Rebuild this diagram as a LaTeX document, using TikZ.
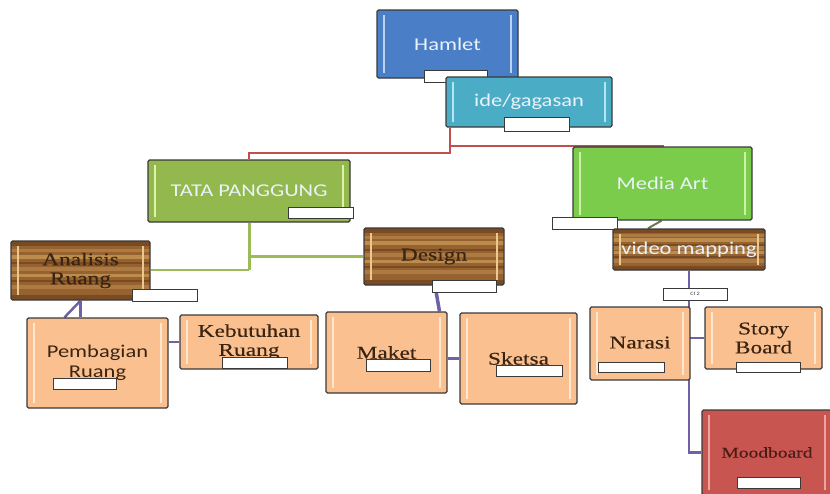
\documentclass[tikz,border=0pt]{standalone}
\usepackage{fontspec}
\newfontfamily\sansf[FakeStretch=1.25]{Carlito}
\newfontfamily\seriff[FakeStretch=1.3,FakeBold=0.3]{Liberation Serif}
\usetikzlibrary{calc,backgrounds}
\definecolor{bordc}{HTML}{3A3A3A}
\definecolor{hamletc}{HTML}{4A7EC6}
\definecolor{hamlethl}{HTML}{B8D4F0}
\definecolor{idec}{HTML}{4BACC6}
\definecolor{idehl}{HTML}{B4E6F2}
\definecolor{tatac}{HTML}{92B84E}
\definecolor{tatahl}{HTML}{DDF2A8}
\definecolor{mediac}{HTML}{7CCC4C}
\definecolor{mediahl}{HTML}{CCF2A8}
\definecolor{peachc}{HTML}{FAC090}
\definecolor{peachhl}{HTML}{FEE8D0}
\definecolor{moodc}{HTML}{C85550}
\definecolor{moodhl}{HTML}{EBA4A0}
\definecolor{wood1}{HTML}{96622F}
\definecolor{wood2}{HTML}{AC7A42}
\definecolor{wood3}{HTML}{BC8C4C}
\definecolor{wood4}{HTML}{7A4A22}
\definecolor{woodhl}{HTML}{EAC890}
\definecolor{redln}{HTML}{C0504D}
\definecolor{greenln}{HTML}{9BBB59}
\definecolor{purpln}{HTML}{7060A8}
\definecolor{oliveln}{HTML}{6A7A50}
\definecolor{darktxt}{HTML}{3A2412}
\definecolor{moodtxt}{HTML}{4A1A14}
\definecolor{lighttxt}{HTML}{EAF2FA}
\newcommand\bevelbars[1]{%
  \draw[#1, line width=2.2pt] ([xshift=7pt,yshift=-5pt]path picture bounding box.north west) -- ([xshift=7pt,yshift=5pt]path picture bounding box.south west);
  \draw[#1, line width=2.2pt] ([xshift=-7pt,yshift=-5pt]path picture bounding box.north east) -- ([xshift=-7pt,yshift=5pt]path picture bounding box.south east);}
\newcommand\woodstripes{%
  \foreach \f/\c/\w in {0.04/wood4/5,0.16/wood2/3,0.27/wood3/4,0.38/wood4/2,0.47/wood2/4,0.58/wood3/3,0.68/wood4/2,0.78/wood2/4,0.96/wood4/5}{%
    \draw[\c, line width=\w pt] ($(path picture bounding box.north west)!\f!(path picture bounding box.south west)$) -- ($(path picture bounding box.north east)!\f!(path picture bounding box.south east)$);}}
\tikzset{
  box/.style={draw=bordc, line width=1.3pt, rounded corners=1.5pt, inner sep=0pt, align=center},
  solidbox/.style 2 args={box, fill=#1, path picture={\bevelbars{#2}}},
  woodbox/.style={box, fill=wood1, path picture={\woodstripes\bevelbars{woodhl}}},
  sanstxt/.style={font=\sansf\fontsize{18}{20}\selectfont},
  seriftxt/.style={font=\seriff\fontsize{18}{19}\selectfont},
  lbl/.style={draw=bordc, fill=white, line width=1pt, minimum width=65pt, minimum height=11pt, inner sep=0pt, font=\sansf\fontsize{5}{5}\selectfont, text=bordc},
  redc/.style={draw=redln, line width=2.2pt},
  greenc/.style={draw=greenln, line width=3pt},
  purpc/.style={draw=purpln, line width=2.5pt},
}
\begin{document}
\begin{tikzpicture}[x=1pt,y=-1pt]
\useasboundingbox (0,0) rectangle (830,493);
\clip (0,0) rectangle (830,493);
% top
\node[solidbox={hamletc}{hamlethl}, sanstxt, text=lighttxt, minimum width=141pt, minimum height=68pt] (hamlet) at (447.5,44) {Hamlet};
\node[lbl, minimum width=63pt, minimum height=12pt] (lhamlet) at (456,76) {};
\node[solidbox={idec}{idehl}, sanstxt, text=lighttxt, minimum width=166pt, minimum height=50pt] (ide) at (529,102) {ide/gagasan};
\node[lbl, minimum height=14pt] (lide) at (537,124) {};
% level 2
\node[solidbox={tatac}{tatahl}, sanstxt, text=lighttxt, minimum width=202pt, minimum height=62pt] (tata) at (249,191) {TATA PANGGUNG};
\node[lbl] (ltata) at (320.5,212.5) {};
\node[solidbox={mediac}{mediahl}, sanstxt, text=lighttxt, minimum width=179pt, minimum height=73pt] (media) at (662.5,183.5) {Media Art};
\node[lbl, minimum height=12pt] (lmedia) at (584.5,223) {};
% level 3
\node[woodbox, seriftxt, text=darktxt, minimum width=139pt, minimum height=59pt] (ana) at (80.5,270.5) {Analisis\\Ruang};
\node[lbl, minimum height=12pt] (lana) at (164.5,295) {};
\node[woodbox, seriftxt, text=darktxt, minimum width=140pt, minimum height=57pt] (design) at (434,256.5) {\raisebox{3pt}{Design}};
\node[lbl, minimum width=64pt, minimum height=12pt] (ldesign) at (464,286) {};
\node[woodbox, sanstxt, text=lighttxt, minimum width=152pt, minimum height=41pt] (video) at (689,249.5) {video mapping};
% level 4
\node[solidbox={peachc}{peachhl}, sanstxt, text=darktxt, minimum width=141pt, minimum height=90pt] (pemb) at (97.5,363) {Pembagian\\Ruang};
\node[solidbox={peachc}{peachhl}, seriftxt, text=darktxt, minimum width=138pt, minimum height=54pt] (keb) at (249,342) {Kebutuhan\\Ruang};
\node[solidbox={peachc}{peachhl}, seriftxt, text=darktxt, minimum width=121pt, minimum height=81pt] (maket) at (386.5,352.5) {Maket};
\node[solidbox={peachc}{peachhl}, seriftxt, text=darktxt, minimum width=117pt, minimum height=91pt] (sketsa) at (518.5,358.5) {\raisebox{-2pt}{Sketsa}};
\node[solidbox={peachc}{peachhl}, seriftxt, text=darktxt, minimum width=100pt, minimum height=73pt] (narasi) at (640,343.5) {\raisebox{2pt}{Narasi}};
\node[solidbox={peachc}{peachhl}, seriftxt, text=darktxt, minimum width=117pt, minimum height=62pt] (story) at (763.5,338) {Story\\Board};
\node[solidbox={moodc}{moodhl}, font=\seriff\fontsize{15}{16}\selectfont, text=moodtxt, minimum width=130pt, minimum height=85pt] (mood) at (767,452.5) {Moodboard};
% labels on level 4
\node[lbl, minimum width=63pt] (lpemb) at (84.5,383.5) {};
\node[lbl] (lkeb) at (254.5,362.5) {};
\node[lbl, minimum width=64pt, minimum height=12pt] (lmaket) at (398,365) {};
\node[lbl, minimum width=66pt] (lsketsa) at (529,370.5) {};
\node[lbl, minimum width=66pt, minimum height=10pt] (lnarasi) at (631,367) {};
\node[lbl, minimum width=64pt, minimum height=10pt] (lstory) at (768,367) {};
\node[lbl, minimum width=63pt] (lmood) at (768.5,482.5) {};
% connectors
\coordinate (rj) at (450,153);
\coordinate (rj2) at (450,146);
\coordinate (gj) at (249,270);
\begin{scope}[on background layer]
\draw[redc] (ide.south -| rj) -- (rj) -| (tata.north);
\draw[redc] (rj2) -| (media.north);
\draw[greenc] (tata.south) -- (gj);
\draw[greenc, line width=2pt] (gj) -- (gj -| ana.east);
\draw[greenc] (tata.south |- design.west) -- (design.west);
\draw[oliveln, line width=2pt] ([xshift=-1pt]media.south) -- ([xshift=-41pt]video.north);
\draw[purpc] (ana.south) -- ([xshift=-33pt]pemb.north);
\draw[purpc] (ana.south) -- ([xshift=-17pt]pemb.north);
\draw[purpc] (pemb.east |- keb.west) -- (keb.west);
\draw[purpc, line width=3.5pt] ([xshift=1pt]design.south) -- ([xshift=53pt]maket.north);
\draw[purpc] (maket.east |- sketsa.west) -- (sketsa.west);
\draw[purpc] (video.south) -- (video.south |- mood.west) -- (mood.west);
\draw[purpc] (video.south |- story.west) -- (story.west);
\end{scope}
\node[lbl, minimum width=64pt, minimum height=12pt] (lci) at (695,294) {CI 2};
\end{tikzpicture}
\end{document}
